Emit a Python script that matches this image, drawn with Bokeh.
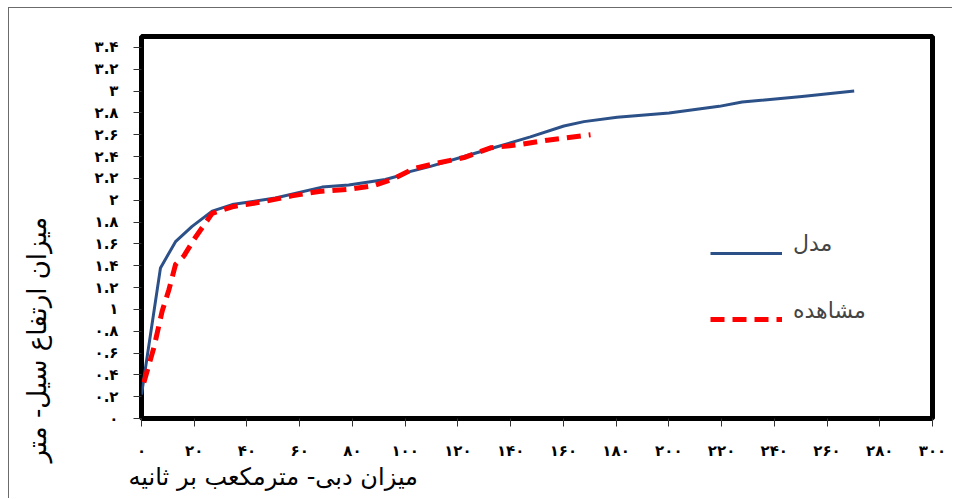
from bokeh.plotting import figure
from bokeh.models import (Range1d, FixedTicker, Legend, LegendItem, Title,
                          LinearAxis)
from bokeh.embed import file_html
from bokeh.resources import INLINE

# ---- data ----
model_q = [0, 7.2, 12.9, 19.2, 26.8, 34.4, 50.8, 68.5, 78.6, 92.5, 97, 101.4,
           109.6, 122.3, 134.9, 147.5, 160.2, 167.8, 180.4, 200.1, 219.1, 227.8,
           250.5, 270.3]
model_h = [0.22, 1.38, 1.62, 1.76, 1.90, 1.96, 2.02, 2.12, 2.14, 2.19, 2.22, 2.26,
           2.31, 2.40, 2.49, 2.58, 2.68, 2.72, 2.76, 2.80, 2.86, 2.90,
           2.95, 3.00]

obs_q = [0.9, 4.7, 7.8, 10.4, 12.9, 16.1, 19.9, 26.8, 34.4, 47, 57, 67.3, 78.6,
         87.5, 95, 103.3, 112.1, 122.3, 132.4, 143.7, 153.9, 170.3]
obs_h = [0.33, 0.65, 0.98, 1.18, 1.41, 1.49, 1.64, 1.88, 1.94, 1.99, 2.04, 2.08,
         2.10, 2.13, 2.19, 2.29, 2.34, 2.39, 2.48, 2.51, 2.55, 2.60]

x_ticks = [0, 20, 40, 60, 80, 100, 120, 140, 160, 180, 200, 220, 240, 260, 280, 300]
x_tick_labels = ["۰", "۲۰", "۴۰", "۶۰", "۸۰", "۱۰۰", "۱۲۰", "۱۴۰", "۱۶۰", "۱۸۰",
                 "۲۰۰", "۲۲۰", "۲۴۰", "۲۶۰", "۲۸۰", "۳۰۰"]
y_ticks = [0, 0.2, 0.4, 0.6, 0.8, 1, 1.2, 1.4, 1.6, 1.8, 2, 2.2, 2.4, 2.6, 2.8,
           3, 3.2, 3.4]
y_tick_labels = ["۰", "۰.۲", "۰.۴", "۰.۶", "۰.۸", "۱", "۱.۲", "۱.۴", "۱.۶", "۱.۸",
                 "۲", "۲.۲", "۲.۴", "۲.۶", "۲.۸", "۳", "۳.۲", "۳.۴"]

x_title = "میزان دبی- مترمکعب بر ثانیه"
y_title = "میزان ارتفاع سیل- متر"
series_names = ["مدل", "مشاهده"]

FONT = "DejaVu Sans"

p = figure(width=944, height=491, output_backend="svg", toolbar_location=None,
           x_range=Range1d(0, 300), y_range=Range1d(0, 3.5))
p.margin = (7, 0, 0, 8)
p.styles = {"border-top": "1px solid #6b6b6b", "border-left": "1px solid #6b6b6b"}
p.min_border_left = 132
p.min_border_right = 21
p.min_border_top = 28
p.min_border_bottom = 81
p.background_fill_color = "white"
p.border_fill_color = "white"
p.outline_line_color = "black"
p.outline_line_width = 5
p.grid.visible = False

for ax in (p.xaxis[0], p.yaxis[0]):
    ax.axis_line_color = None
    ax.major_tick_line_color = "#333333"
    ax.major_tick_line_width = 1
    ax.major_tick_in = 0
    ax.major_tick_out = 8
    ax.minor_tick_line_color = None
    ax.major_label_text_font = FONT
    ax.major_label_text_font_style = "bold"
    ax.major_label_text_font_size = "15px"
    ax.major_label_text_color = "black"
    ax.major_label_standoff = 15

p.xaxis[0].ticker = FixedTicker(ticks=x_ticks)
p.xaxis[0].major_label_overrides = dict(zip(x_ticks, x_tick_labels))
p.yaxis[0].ticker = FixedTicker(ticks=y_ticks)
p.yaxis[0].major_label_overrides = dict(zip(y_ticks, y_tick_labels))

r_model = p.line(model_q, model_h, line_color="#2C5088", line_width=3,
                 line_join="round", line_cap="butt")
r_obs = p.line(obs_q, obs_h, line_color="#FF0000", line_width=5,
               line_dash="14 8", line_cap="butt", line_join="round")

# legend sample lines
legend_lines = Legend(items=[LegendItem(label="", renderers=[r_model]),
                             LegendItem(label="", renderers=[r_obs])],
                      location=(569, 89), orientation="vertical",
                      glyph_width=72, glyph_height=20, label_height=20,
                      spacing=46, padding=0, margin=0, label_standoff=0,
                      label_width=0, border_line_color=None,
                      background_fill_alpha=0)
p.add_layout(legend_lines, "center")

# legend texts, set a little above their sample lines as in the original
legend_text = Legend(items=[LegendItem(label=series_names[0], renderers=[r_model]),
                            LegendItem(label=series_names[1], renderers=[r_obs])],
                     location=(652, 93), orientation="vertical",
                     glyph_width=0, glyph_height=30, label_height=30,
                     spacing=37, padding=0, margin=0, label_standoff=0,
                     border_line_color=None, background_fill_alpha=0,
                     label_text_font=FONT, label_text_font_size="22px")
p.add_layout(legend_text, "center")

# blank spacer axis between the y axis and its title: one white tick, empty label
spacer_tick = [y_ticks[-1]]
spacer = LinearAxis(ticker=FixedTicker(ticks=spacer_tick), axis_line_color=None,
                    major_tick_line_color="white", minor_tick_line_color=None,
                    major_tick_out=40, major_tick_in=0, minor_tick_out=0,
                    major_label_standoff=0, major_label_text_font_size="1px",
                    major_label_text_color="white",
                    major_label_overrides={spacer_tick[0]: ""})
p.add_layout(spacer, "left")

p.add_layout(Title(text=y_title, align="left", offset=-44, standoff=0,
                   text_font=FONT, text_font_size="26px", text_font_style="normal",
                   text_color="black"), "left")
p.add_layout(Title(text=x_title, align="left", offset=-13, standoff=-3,
                   text_font=FONT, text_font_size="24px", text_font_style="normal",
                   text_color="black"), "below")

open("out.html", "w").write(file_html(p, INLINE))
